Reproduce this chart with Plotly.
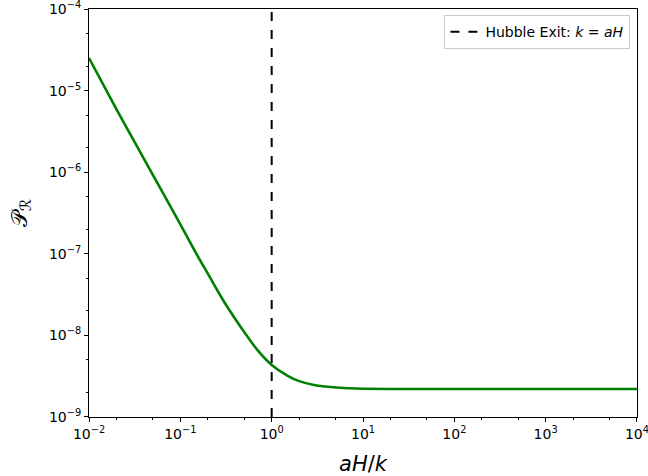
import plotly.graph_objects as go

# aH/k values and read-off power spectrum values
x_vals = [0.01, 0.02, 0.03, 0.05, 0.1, 0.15, 0.2, 0.3, 0.5, 0.7, 1.0, 1.5, 2.0, 3.0, 5.0, 7.0, 10.0, 20.0, 100.0, 1000.0, 10000.0]
p_vals = [2.5e-5, 5.9e-6, 2.6e-6, 9.3e-7, 2.3e-7, 1.0e-7, 5.7e-8, 2.6e-8, 1.1e-8, 6.6e-9, 4.35e-9, 3.2e-9, 2.75e-9, 2.45e-9, 2.3e-9, 2.25e-9, 2.22e-9, 2.2e-9, 2.2e-9, 2.2e-9, 2.2e-9]

x_ticks = [0.01, 0.1, 1, 10, 100, 1000, 10000]
x_ticktext = ["10<sup>−2</sup>", "10<sup>−1</sup>", "10<sup>0</sup>", "10<sup>1</sup>", "10<sup>2</sup>", "10<sup>3</sup>", "10<sup>4</sup>"]
y_ticks = [1e-9, 1e-8, 1e-7, 1e-6, 1e-5, 1e-4]
y_ticktext = ["10<sup>−9</sup>", "10<sup>−8</sup>", "10<sup>−7</sup>", "10<sup>−6</sup>", "10<sup>−5</sup>", "10<sup>−4</sup>"]

exit_x = [1.0, 1.0]
exit_y = [1e-9, 1e-4]
legend_label = "Hubble Exit: <i>k</i> = <i>aH</i>"

fig = go.Figure()
fig.add_trace(go.Scatter(x=x_vals, y=p_vals, mode="lines", line=dict(color="green", width=2.6, shape="spline"), showlegend=False))
fig.add_trace(go.Scatter(x=exit_x, y=exit_y, mode="lines", line=dict(color="black", width=2, dash="dash"), name=legend_label, showlegend=True))

axis_common = dict(
    type="log", showline=True, linecolor="black", linewidth=1, mirror=True,
    ticks="outside", ticklen=4, tickcolor="black", showgrid=False, zeroline=False,
    automargin=False, ticklabeloverflow="allow",
    tickfont=dict(family="DejaVu Sans", size=14, color="black"),
    minor=dict(ticks="outside", ticklen=2, tickcolor="black", showgrid=False),
)

fig.update_layout(
    width=648, height=476,
    margin=dict(l=89, r=11, t=9, b=59),
    plot_bgcolor="white", paper_bgcolor="white",
    xaxis=dict(axis_common, range=[-2.0002, 4.0002], tickvals=x_ticks, ticktext=x_ticktext,
               title=dict(text="<i>aH</i>/<i>k</i>", font=dict(family="DejaVu Sans", size=21, color="black"))),
    yaxis=dict(axis_common, range=[-9.0002, -3.9998], tickvals=y_ticks, ticktext=y_ticktext,
               title=dict(text="𝒫<sub>ℛ</sub>", font=dict(family="DejaVu Sans", size=22, color="black"))),
    legend=dict(x=0.988, y=0.985, xanchor="right", yanchor="top", bgcolor="white",
                bordercolor="#cccccc", borderwidth=1, font=dict(family="DejaVu Sans", size=14, color="black")),
)

fig.write_html("out.html", config={"displayModeBar": False},
               post_script="document.body.style.margin='0';")
